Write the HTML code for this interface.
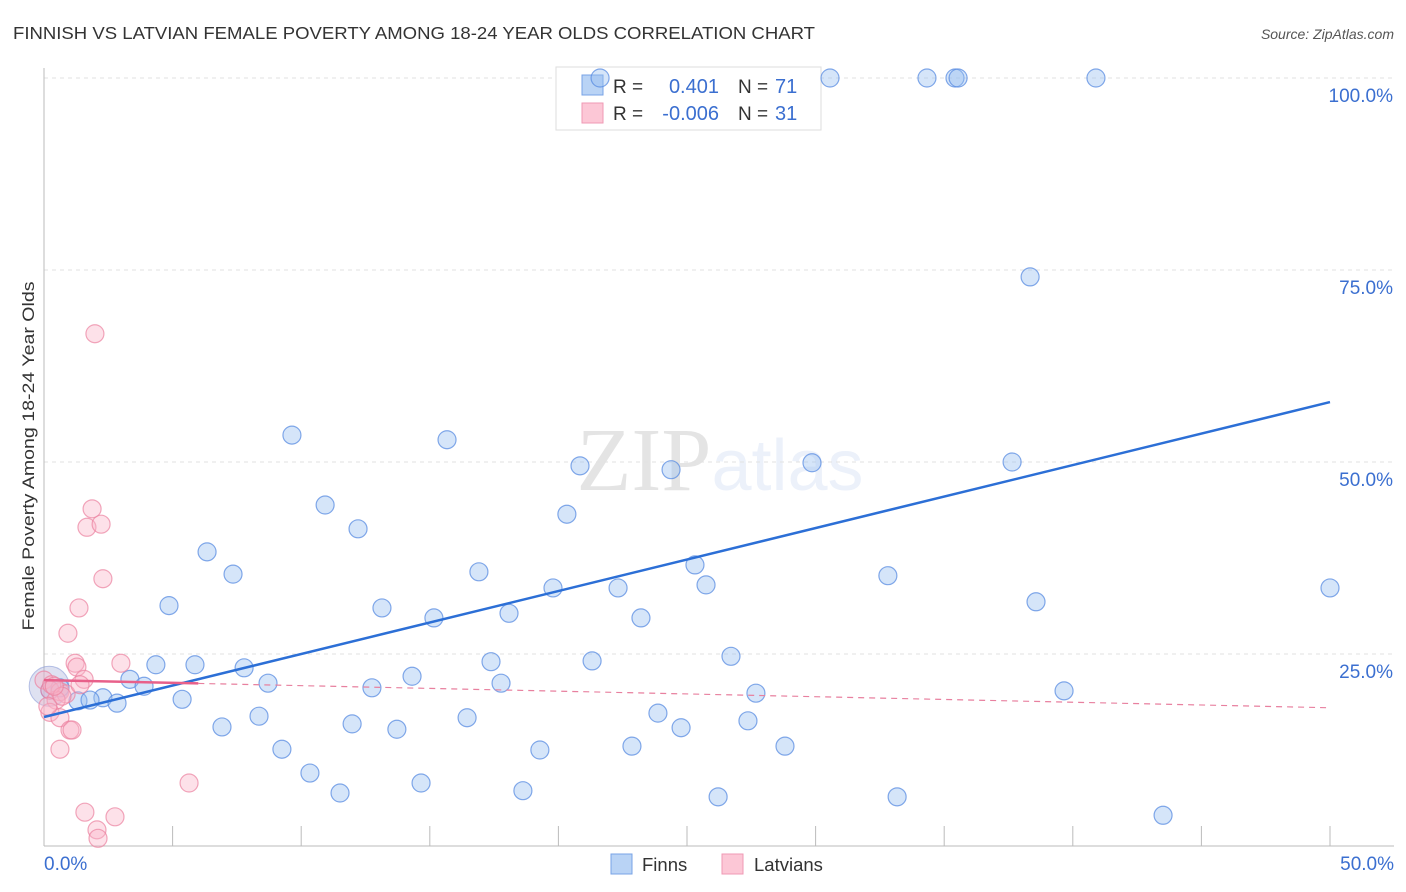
<!DOCTYPE html>
<html><head><meta charset="utf-8"><style>
body{margin:0;background:#fff;font-family:"Liberation Sans",sans-serif;}
svg{display:block}
</style></head><body>
<svg id="chart" width="1406" height="892" xmlns="http://www.w3.org/2000/svg">
<text x="13" y="39" font-size="17.5" fill="#333" textLength="802" lengthAdjust="spacingAndGlyphs">FINNISH VS LATVIAN FEMALE POVERTY AMONG 18-24 YEAR OLDS CORRELATION CHART</text>
<text x="1394" y="39" font-size="14" fill="#555" font-style="italic" text-anchor="end">Source: ZipAtlas.com</text>
<text x="720" y="490" font-size="90" text-anchor="middle" fill="#000" opacity="0.1"><tspan font-family="Liberation Serif">ZIP</tspan><tspan fill="#3b6fd0" opacity="0.9" font-size="72">atlas</tspan></text>
<g id="grid"></g>
<g id="axes"></g>
<g>
<rect x="556" y="67" width="265" height="63" fill="#fff" stroke="#ddd"/>
<rect x="582" y="75" width="21" height="20" fill="#b9d3f5" stroke="#78a3e6"/>
<rect x="582" y="103" width="21" height="20" fill="#fcc7d6" stroke="#ef9ab4"/>
<text x="613" y="93" font-size="19" fill="#333">R =</text><text x="719" y="93" font-size="20" fill="#3b6fd0" text-anchor="end">0.401</text>
<text x="738" y="93" font-size="19" fill="#333">N =</text><text x="775" y="93" font-size="20" fill="#3b6fd0">71</text>
<text x="613" y="120" font-size="19" fill="#333">R =</text><text x="719" y="120" font-size="20" fill="#3b6fd0" text-anchor="end">-0.006</text>
<text x="738" y="120" font-size="19" fill="#333">N =</text><text x="775" y="120" font-size="20" fill="#3b6fd0">31</text>
</g>
<g id="marks"></g>
<text transform="translate(34,456) rotate(-90)" font-size="17" fill="#333" text-anchor="middle" textLength="349" lengthAdjust="spacingAndGlyphs">Female Poverty Among 18-24 Year Olds</text>
<g>
<rect x="611" y="854" width="21" height="20" fill="#b9d3f5" stroke="#78a3e6"/>
<text x="642" y="871" font-size="18.5" fill="#333">Finns</text>
<rect x="722" y="854" width="21" height="20" fill="#fcc7d6" stroke="#ef9ab4"/>
<text x="754" y="871" font-size="18.5" fill="#333">Latvians</text>
</g>
</svg>
<script>
const finnsX=[21.62,30.56,34.33,35.42,35.54,40.90,38.34,9.64,15.67,20.84,24.38,29.86,37.64,10.93,12.21,20.33,6.34,7.35,16.91,25.31,19.79,22.32,25.74,32.81,50.0,38.57,4.86,13.14,15.16,18.08,23.21,4.35,5.87,7.78,17.38,21.31,26.71,3.34,3.89,8.71,14.31,12.75,17.77,27.68,39.66,5.37,2.29,2.84,1.32,1.79,8.36,6.92,11.98,13.72,16.45,23.87,24.77,27.37,9.25,22.86,19.28,28.81,10.34,14.66,11.51,18.62,26.21,33.17,43.51,0.62,0.23];
const finnsY=[100,100,100,100,100,100,74.1,53.5,52.9,49.5,49.0,49.9,50.0,44.4,41.3,43.2,38.3,35.4,35.7,36.6,33.6,33.6,34.0,35.2,33.6,31.8,31.3,31.0,29.7,30.3,29.7,23.6,23.6,23.2,24.0,24.1,24.7,21.7,20.8,21.2,22.1,20.6,21.2,19.9,20.2,19.1,19.3,18.6,18.9,19.0,16.9,15.5,15.9,15.2,16.7,17.3,15.4,16.3,12.6,13.0,12.5,13.0,9.5,8.2,6.9,7.2,6.4,6.4,4.0,20.6,20.3];
const latX=[1.98,1.87,1.67,2.22,2.29,1.36,0.93,2.99,1.21,1.28,1.56,0,0.23,0.62,0.86,0.47,0.23,0.62,1.01,1.09,0.62,5.64,1.59,2.76,2.06,2.10,0.3,0.7,0.15,0.4,1.4];
const latY=[66.7,43.9,41.5,41.9,34.8,31.0,27.7,23.8,23.8,23.3,21.7,21.6,20.3,20.1,19.8,19.0,17.4,16.7,15.1,15.1,12.6,8.2,4.4,3.8,2.1,1.0,21.0,19.5,18.2,20.8,21.0];
const yTicks=[25,50,75,100];
const yTickLabels=["25.0%","50.0%","75.0%","100.0%"];
const xTickLabels=["0.0%","50.0%"];
const finnsTrend=[16.8,57.8];
const latTrend=[21.6,18.0];
const NS="http://www.w3.org/2000/svg";
const X=v=>44+v*25.72, Y=v=>846-v*7.68;
function mk(t,a,p){const e=document.createElementNS(NS,t);for(const k in a)e.setAttribute(k,a[k]);p.appendChild(e);return e;}
const grid=document.getElementById('grid'),axes=document.getElementById('axes'),marks=document.getElementById('marks');
yTicks.forEach((v,i)=>{
 const l=mk('line',{x1:44,x2:1394,y1:Y(v),y2:Y(v),stroke:'#e2e2e2','stroke-dasharray':'4,4'},grid);
 
 
 const t=mk('text',{x:1393,y:Y(v)+24,'font-size':19,fill:'#3b6fd0','text-anchor':'end'},axes);t.textContent=yTickLabels[i];
 
 
});
mk('line',{x1:44,x2:44,y1:68,y2:846,stroke:'#bbb'},axes);
mk('line',{x1:44,x2:1394,y1:846,y2:846,stroke:'#bbb'},axes);
for(let i=1;i<=10;i++){const tk=mk('line',{x1:X(i*5),x2:X(i*5),y1:826,y2:846,stroke:'#bbb'},axes);
 
 }
const t0=mk('text',{x:44,y:870,'font-size':19,fill:'#3b6fd0'},axes);t0.textContent=xTickLabels[0];


const t1=mk('text',{x:1394,y:870,'font-size':19,fill:'#3b6fd0','text-anchor':'end'},axes);t1.textContent=xTickLabels[1];


const big=mk('circle',{cx:X(0.2),cy:Y(20.8),r:20,fill:'rgba(160,170,215,0.35)',stroke:'rgba(120,140,210,0.5)'},marks);


finnsX.forEach((v,i)=>{const c=mk('circle',{cx:X(v),cy:Y(finnsY[i]),r:9,fill:'rgba(150,190,240,0.4)',stroke:'rgba(90,140,225,0.75)','stroke-width':1.2},marks);
 
 });
latX.forEach((v,i)=>{const c=mk('circle',{cx:X(v),cy:Y(latY[i]),r:9,fill:'rgba(250,180,200,0.4)',stroke:'rgba(235,130,160,0.7)','stroke-width':1.2},marks);
 
 });
const ft=mk('line',{x1:X(0),y1:Y(finnsTrend[0]),x2:X(50),y2:Y(finnsTrend[1]),stroke:'#2c6fd6','stroke-width':2.5},marks);


const ly=x=>latTrend[0]+(latTrend[1]-latTrend[0])*x/50;
const ls=mk('line',{x1:X(0),y1:Y(latTrend[0]),x2:X(6),y2:Y(ly(6)),stroke:'#e8608a','stroke-width':2.5},marks);


const ld=mk('line',{x1:X(6),y1:Y(ly(6)),x2:X(50),y2:Y(latTrend[1]),stroke:'#e8809f','stroke-width':1.2,'stroke-dasharray':'6,5'},marks);


</script>
</body></html>
